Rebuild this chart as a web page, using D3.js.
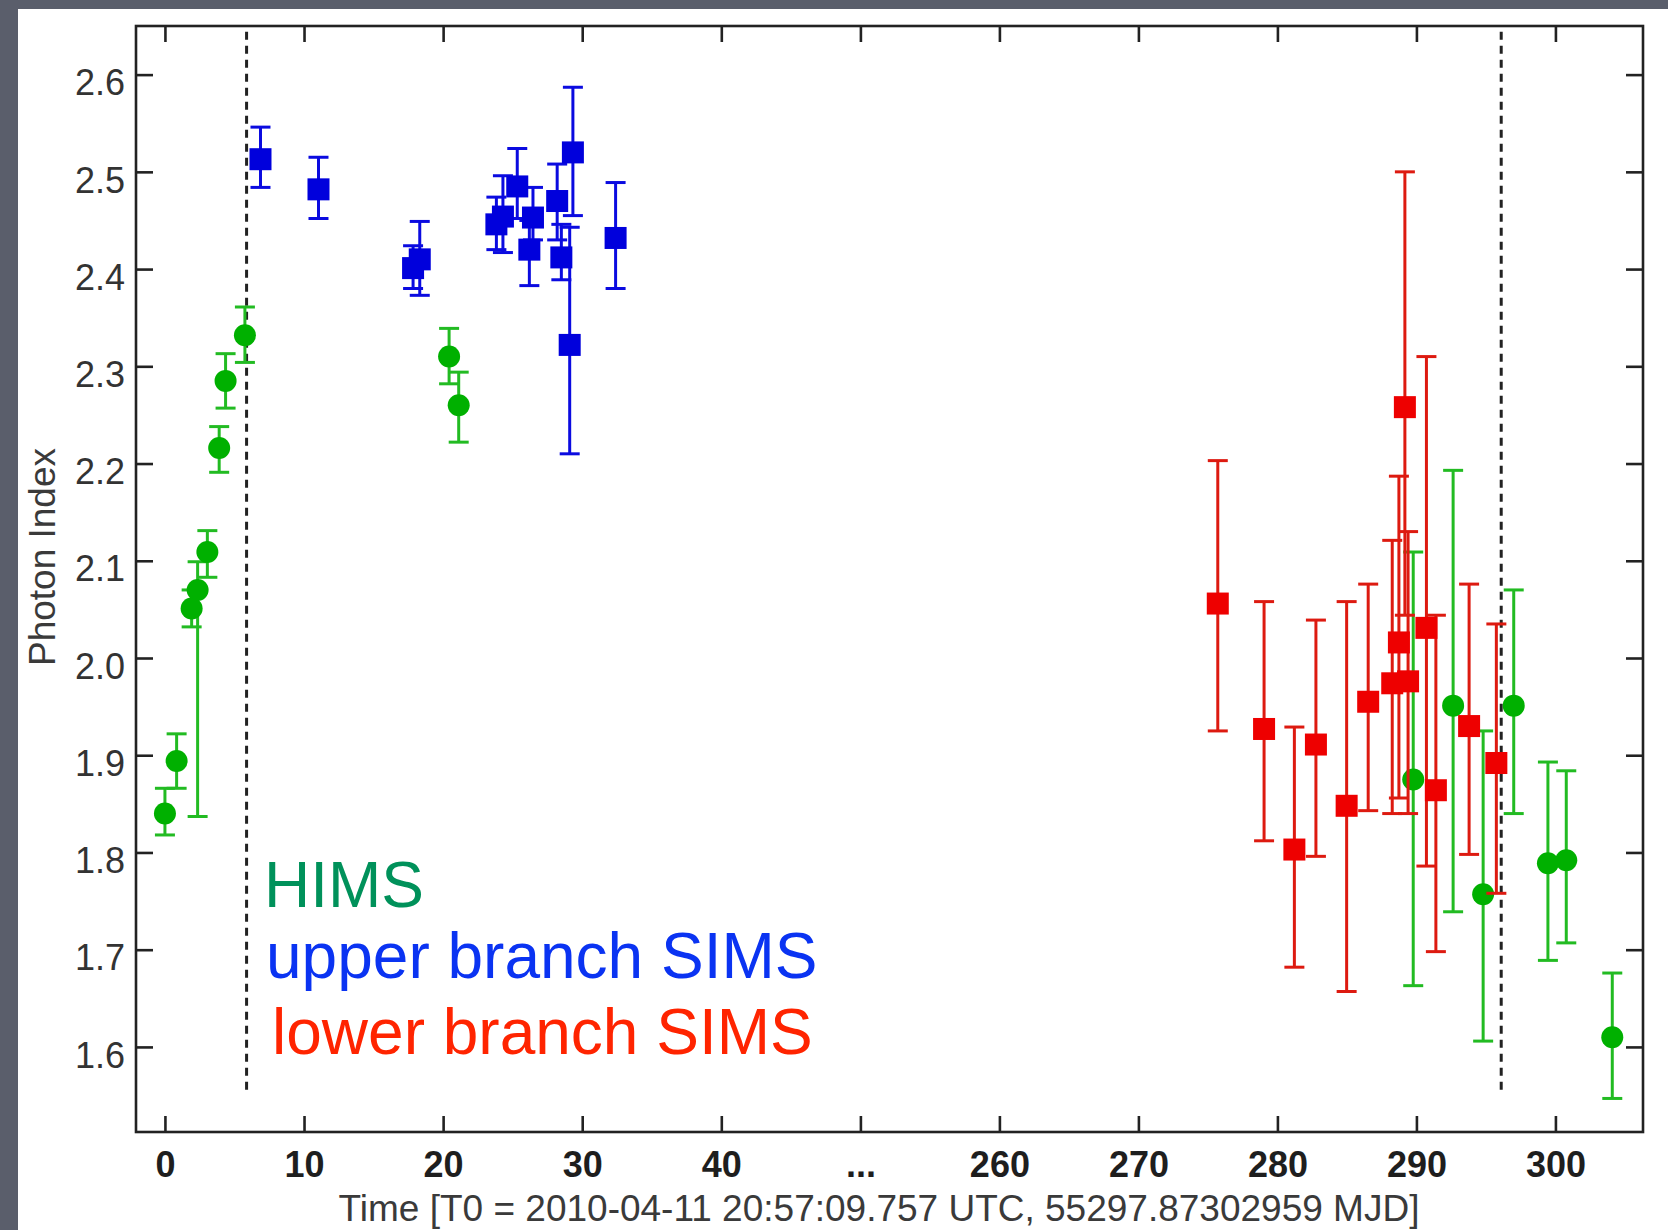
<!DOCTYPE html>
<html>
<head>
<meta charset="utf-8">
<script src="https://cdn.jsdelivr.net/npm/d3@7"></script>
<style>
  html, body { margin: 0; padding: 0; background: #fff; }
  svg { display: block; }
  text { font-family: "Liberation Sans", Arial, Helvetica, sans-serif; }
</style>
</head>
<body>
<svg id="chart" width="1668" height="1230"></svg>
<script>
// ---- HIMS (green circles): time [d], photon index, lower / upper error
const himsTime = [0.0, 0.84, 1.92, 2.35, 3.05, 3.9, 4.36, 5.75, 20.43, 21.12,
                  289.77, 292.64, 294.8, 297.0, 299.46, 300.78, 304.09];
const himsIndex = [1.840, 1.894, 2.051, 2.070, 2.109, 2.216, 2.285, 2.332, 2.310, 2.260,
                   1.875, 1.951, 1.757, 1.951, 1.789, 1.792, 1.610];
const himsLow = [1.818, 1.866, 2.032, 1.837, 2.083, 2.191, 2.257, 2.304, 2.282, 2.222,
                 1.663, 1.739, 1.606, 1.840, 1.689, 1.707, 1.547];
const himsHigh = [1.866, 1.922, 2.070, 2.099, 2.131, 2.238, 2.313, 2.361, 2.339, 2.294,
                  2.109, 2.193, 1.925, 2.070, 1.893, 1.884, 1.676];

// ---- upper branch SIMS (blue squares)
const upperTime = [6.87, 11.04, 17.84, 18.32, 23.83, 24.3, 25.33, 26.46, 26.2, 28.2, 28.5, 29.33, 29.1, 32.4];
const upperIndex = [2.513, 2.482, 2.401, 2.410, 2.446, 2.454, 2.485, 2.453, 2.420, 2.470, 2.412, 2.520, 2.322, 2.432];
const upperLow = [2.484, 2.452, 2.380, 2.373, 2.420, 2.417, 2.452, 2.430, 2.383, 2.430, 2.389, 2.455, 2.210, 2.380];
const upperHigh = [2.546, 2.515, 2.424, 2.449, 2.474, 2.496, 2.524, 2.484, 2.450, 2.508, 2.446, 2.587, 2.443, 2.489];

// ---- lower branch SIMS (red squares)
const lowerTime = [275.71, 279.04, 281.22, 282.77, 284.98, 286.53, 288.26, 288.74, 289.4, 289.17, 290.72, 291.4, 293.79, 295.75];
const lowerIndex = [2.056, 1.927, 1.803, 1.911, 1.848, 1.955, 1.974, 2.016, 1.976, 2.258, 2.031, 1.864, 1.930, 1.892];
const lowerLow = [1.925, 1.812, 1.682, 1.796, 1.657, 1.843, 1.840, 1.856, 1.840, 2.044, 1.786, 1.698, 1.798, 1.758];
const lowerHigh = [2.203, 2.058, 1.929, 2.039, 2.058, 2.076, 2.121, 2.187, 2.130, 2.500, 2.310, 2.044, 2.076, 2.035];

// ---- axes
const yTicks = [1.6, 1.7, 1.8, 1.9, 2.0, 2.1, 2.2, 2.3, 2.4, 2.5, 2.6];
const xTicks = [0, 10, 20, 30, 40, 50, 260, 270, 280, 290, 300];
const xTickLabels = ["0", "10", "20", "30", "40", "...", "260", "270", "280", "290", "300"];
const stateBoundaries = [5.87, 296.1];
const boundaryRange = [1.553, 2.644];
const legendLabels = ["HIMS", "upper branch SIMS", "lower branch SIMS"];
const xTitle = "Time [T0 = 2010-04-11 20:57:09.757 UTC, 55297.87302959 MJD]";
const yTitle = "Photon Index";

const W = 1668, H = 1230;
const plot = { left: 136, right: 1643, top: 26, bottom: 1132 };
const GREEN = "#00b000", GREEN_BAR = "#22bb22";
const BLUE = "#0000dc", BLUE_BAR = "#0b0be0";
const RED = "#ee0000", RED_BAR = "#dd1a10";
const MARK = 22;

const svg = d3.select("#chart");

// slide background and white canvas
svg.append("rect").attr("width", W).attr("height", H).attr("fill", "#5a5e6b");
svg.append("rect").attr("x", 18).attr("y", 9).attr("width", W - 18).attr("height", H - 9).attr("fill", "#ffffff");

// time axis is broken: day 50 and day 250 meet at the "..." tick
const x = d3.scaleLinear()
  .domain([-2.08, 50, 250, 306.3])
  .range([plot.left, 860.4, 860.4, plot.right]);
const y = d3.scaleLinear()
  .domain([1.5125, 2.65])
  .range([plot.bottom, plot.top]);

const labelOf = d => xTickLabels[xTicks.indexOf(d)];

function styleAxis(g) {
  g.select(".domain").remove();
  g.selectAll(".tick line").attr("stroke", "#222").attr("stroke-width", 2.6);
}

// bottom axis with labels
const gx = svg.append("g").attr("transform", `translate(0,${plot.bottom})`)
  .call(d3.axisBottom(x).tickValues(xTicks).tickFormat(labelOf).tickSize(-16).tickPadding(0));
styleAxis(gx);
gx.selectAll(".tick text")
  .attr("y", 45).attr("dy", 0)
  .attr("font-size", 36).attr("font-weight", "bold").attr("fill", "#1e1e1e");

// top axis (ticks only)
const gxt = svg.append("g").attr("transform", `translate(0,${plot.top})`)
  .call(d3.axisTop(x).tickValues(xTicks).tickFormat("").tickSize(-16));
styleAxis(gxt);

// left axis with labels
const gy = svg.append("g").attr("transform", `translate(${plot.left},0)`)
  .call(d3.axisLeft(y).tickValues(yTicks).tickFormat(d3.format(".1f")).tickSize(-17).tickPadding(11));
styleAxis(gy);
gy.selectAll(".tick text")
  .attr("dy", "0.56em")
  .attr("font-size", 36).attr("fill", "#333");

// right axis (ticks only)
const gyr = svg.append("g").attr("transform", `translate(${plot.right},0)`)
  .call(d3.axisRight(y).tickValues(yTicks).tickFormat("").tickSize(-17));
styleAxis(gyr);

// plot frame
svg.append("rect")
  .attr("x", plot.left).attr("y", plot.top)
  .attr("width", plot.right - plot.left).attr("height", plot.bottom - plot.top)
  .attr("fill", "none").attr("stroke", "#222").attr("stroke-width", 2.6);

// state transition markers
svg.append("g").selectAll("line").data(stateBoundaries).join("line")
  .attr("x1", d => x(d)).attr("x2", d => x(d))
  .attr("y1", y(boundaryRange[1])).attr("y2", y(boundaryRange[0]))
  .attr("stroke", "#222").attr("stroke-width", 3).attr("stroke-dasharray", "8,6");

// error bars with caps
function errorBars(times, lows, highs, color) {
  const g = svg.append("g").attr("stroke", color).attr("stroke-width", 3).attr("fill", "none");
  const cap = 10;
  times.forEach((t, i) => {
    const cx = x(t);
    g.append("line").attr("x1", cx).attr("x2", cx).attr("y1", y(lows[i])).attr("y2", y(highs[i]));
    g.append("line").attr("x1", cx - cap).attr("x2", cx + cap).attr("y1", y(lows[i])).attr("y2", y(lows[i]));
    g.append("line").attr("x1", cx - cap).attr("x2", cx + cap).attr("y1", y(highs[i])).attr("y2", y(highs[i]));
  });
}

// HIMS
errorBars(himsTime, himsLow, himsHigh, GREEN_BAR);
svg.append("g").selectAll("circle").data(himsTime).join("circle")
  .attr("cx", d => x(d)).attr("cy", (d, i) => y(himsIndex[i]))
  .attr("r", MARK / 2).attr("fill", GREEN);

// lower branch SIMS
errorBars(lowerTime, lowerLow, lowerHigh, RED_BAR);
svg.append("g").selectAll("rect").data(lowerTime).join("rect")
  .attr("x", d => x(d) - MARK / 2).attr("y", (d, i) => y(lowerIndex[i]) - MARK / 2)
  .attr("width", MARK).attr("height", MARK).attr("fill", RED);

// upper branch SIMS
errorBars(upperTime, upperLow, upperHigh, BLUE_BAR);
svg.append("g").selectAll("rect").data(upperTime).join("rect")
  .attr("x", d => x(d) - MARK / 2).attr("y", (d, i) => y(upperIndex[i]) - MARK / 2)
  .attr("width", MARK).attr("height", MARK).attr("fill", BLUE);

// state labels
const legendColors = ["#00915a", "#0a33f2", "#ff2400"];
const legendX = [264, 266, 272];
const legendY = [907, 978, 1054];
svg.append("g").selectAll("text").data(legendLabels).join("text")
  .attr("x", (d, i) => legendX[i]).attr("y", (d, i) => legendY[i])
  .attr("font-size", 64).attr("fill", (d, i) => legendColors[i])
  .text(d => d);

// axis titles
svg.append("text")
  .attr("x", 879).attr("y", 1221)
  .attr("text-anchor", "middle").attr("font-size", 37).attr("fill", "#3a3a3a")
  .text(xTitle);
svg.append("text")
  .attr("transform", `translate(55,${(plot.top + plot.bottom) / 2 - 22}) rotate(-90)`)
  .attr("text-anchor", "middle").attr("font-size", 37).attr("fill", "#3a3a3a")
  .text(yTitle);
</script>
</body>
</html>
